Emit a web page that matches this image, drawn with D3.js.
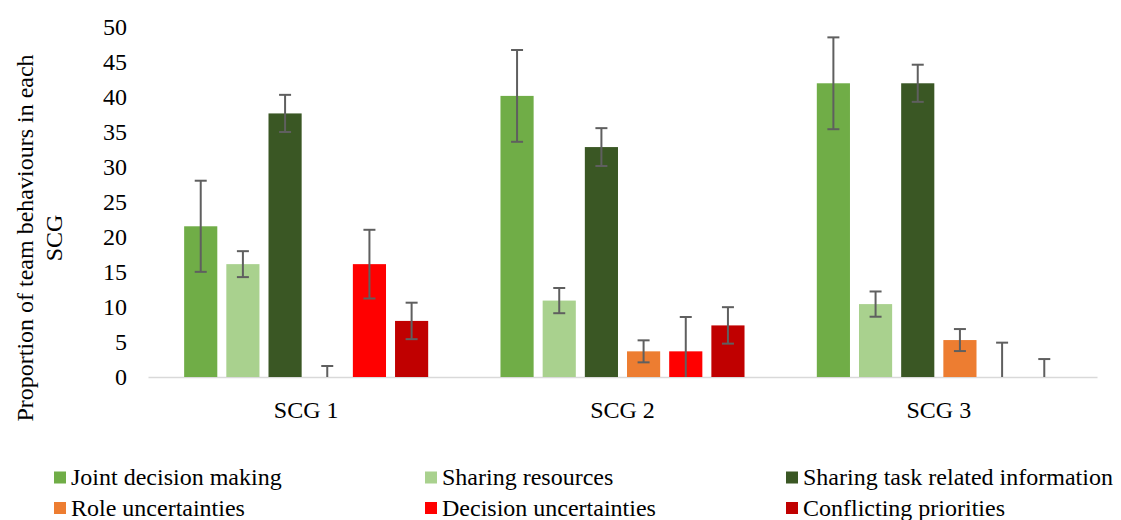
<!DOCTYPE html>
<html><head><meta charset="utf-8"><script src="https://cdn.jsdelivr.net/npm/d3@7"></script></head>
<body style="margin:0">
<svg width="1121" height="520" id="s" font-family="Liberation Serif"></svg>
<script>
// ---- data ----
const categories = ["SCG 1", "SCG 2", "SCG 3"];
const seriesNames = ["Joint decision making", "Sharing resources", "Sharing task related information",
                     "Role uncertainties", "Decision uncertainties", "Conflicting priorities"];
const seriesColors = ["#70AD47", "#A9D18E", "#3A5724", "#ED7D31", "#FF0000", "#C00000"];

const jointDecision = [21.5, 40.1, 41.9];
const sharingResources = [16.1, 10.9, 10.4];
const sharingTaskInfo = [37.6, 32.8, 41.9];
const roleUncertainties = [0, 3.66, 5.27];
const decisionUncertainties = [16.1, 3.66, 0];
const conflictingPriorities = [8.0, 7.36, 0];

const jointDecisionErr = [6.5, 6.55, 6.55];
const sharingResourcesErr = [1.85, 1.8, 1.8];
const sharingTaskInfoErr = [2.65, 2.7, 2.65];
const roleUncertaintiesErr = [1.57, 1.57, 1.57];
const decisionUncertaintiesErr = [4.9, 4.9, 4.9];
const conflictingPrioritiesErr = [2.6, 2.6, 2.56];

const yTicks = [0, 5, 10, 15, 20, 25, 30, 35, 40, 45, 50];
const yTitleLines = ["Proportion of team behaviours in each", "SCG"];

const seriesValues = [jointDecision, sharingResources, sharingTaskInfo,
                      roleUncertainties, decisionUncertainties, conflictingPriorities];
const seriesErrors = [jointDecisionErr, sharingResourcesErr, sharingTaskInfoErr,
                      roleUncertaintiesErr, decisionUncertaintiesErr, conflictingPrioritiesErr];

// ---- layout ----
const svg = d3.select("#s");
const plot = { left: 148, right: 1097, top: 26.5, bottom: 377 };
const fontSize = 24;

const x0 = d3.scaleBand().domain(categories).range([plot.left, plot.right])
  .paddingInner(0.2).paddingOuter(0.1);
const x1 = d3.scaleBand().domain(d3.range(seriesNames.length)).range([0, x0.bandwidth()])
  .paddingInner(0.214).paddingOuter(0.107);
const y = d3.scaleLinear().domain([0, 50]).range([plot.bottom, plot.top]);

// y-axis tick labels (no axis line)
const yAxis = d3.axisLeft(y).tickValues(yTicks).tickSize(0).tickPadding(0);
const yg = svg.append("g").attr("transform", `translate(${plot.left - 21},0)`).call(yAxis);
yg.attr("font-family", "Liberation Serif").attr("font-size", fontSize);
yg.select(".domain").remove();
yg.selectAll("text").attr("font-family", "Liberation Serif").attr("font-size", fontSize)
  .attr("fill", "#000").attr("dy", "0.33em");

// x-axis
const xAxis = d3.axisBottom(x0).tickSize(0).tickPadding(0);
const xg = svg.append("g").attr("transform", `translate(0,${plot.bottom})`).call(xAxis);
xg.attr("font-family", "Liberation Serif").attr("font-size", fontSize);
xg.select(".domain").attr("stroke", "#D9D9D9").attr("stroke-width", 1.5);
xg.selectAll("text").attr("font-family", "Liberation Serif").attr("font-size", fontSize)
  .attr("fill", "#000").attr("dy", null).attr("y", 41);

// bars
const groups = svg.append("g").selectAll("g").data(categories).join("g")
  .attr("transform", d => `translate(${x0(d)},0)`);

groups.each(function(cat, ci) {
  const g = d3.select(this);
  seriesNames.forEach((name, si) => {
    const v = seriesValues[si][ci];
    const e = seriesErrors[si][ci];
    const bx = x1(si);
    const bw = x1.bandwidth();
    if (v > 0) {
      g.append("rect").attr("x", bx).attr("y", y(v)).attr("width", bw)
        .attr("height", y(0) - y(v)).attr("fill", seriesColors[si]);
    }
    const cx = bx + bw / 2;
    const hi = v + e, lo = Math.max(0, v - e);
    const capW = 12;
    g.append("line").attr("x1", cx).attr("x2", cx).attr("y1", y(hi)).attr("y2", y(lo))
      .attr("stroke", "#5F5F5F").attr("stroke-width", 2);
    g.append("line").attr("x1", cx - capW / 2).attr("x2", cx + capW / 2)
      .attr("y1", y(hi)).attr("y2", y(hi)).attr("stroke", "#5F5F5F").attr("stroke-width", 2);
    if (v - e >= 0) {
      g.append("line").attr("x1", cx - capW / 2).attr("x2", cx + capW / 2)
        .attr("y1", y(lo)).attr("y2", y(lo)).attr("stroke", "#5F5F5F").attr("stroke-width", 2);
    }
  });
});

// y title
const yTitle = svg.append("text").attr("transform", "translate(33,238) rotate(-90)")
  .attr("text-anchor", "middle").attr("font-family", "Liberation Serif").attr("font-size", fontSize);
yTitleLines.forEach((t, i) => {
  yTitle.append("tspan").attr("x", 0).attr("y", i * 29).text(t);
});

// legend
const legendCols = [54, 425, 786];
const legendRows = [477.5, 508];
const legend = svg.append("g");
seriesNames.forEach((name, i) => {
  const col = i % 3, row = Math.floor(i / 3);
  const lx = legendCols[col], ly = legendRows[row];
  legend.append("rect").attr("x", lx).attr("y", ly - 6).attr("width", 12).attr("height", 12)
    .attr("fill", seriesColors[i]);
  legend.append("text").attr("x", lx + 17).attr("y", ly).attr("dy", "0.33em")
    .attr("font-family", "Liberation Serif").attr("font-size", fontSize).text(name);
});
</script>
</body>
</html>
